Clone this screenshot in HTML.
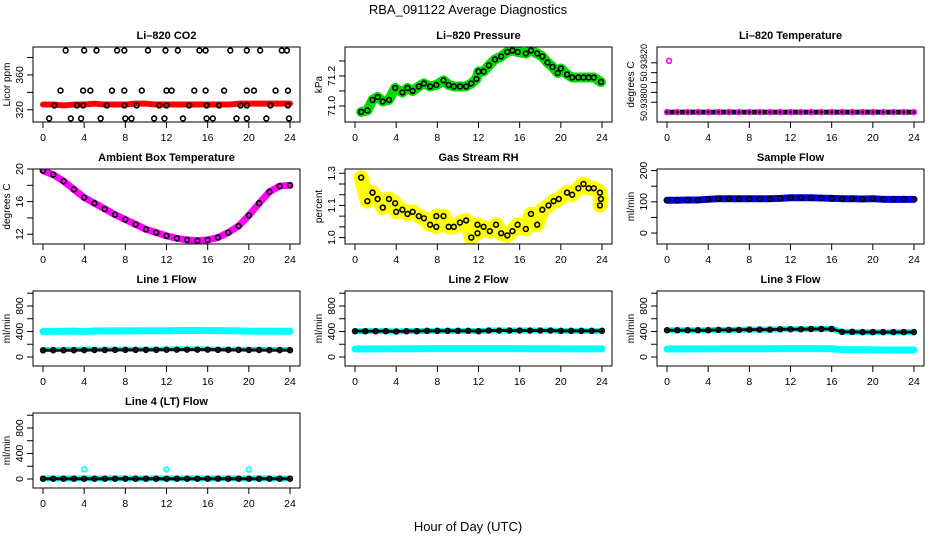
<!DOCTYPE html>
<html><head><meta charset="utf-8"><style>
html,body{margin:0;padding:0;background:#fff;}
svg{display:block;font-family:"Liberation Sans",sans-serif;}
</style></head><body>
<svg id="chart" width="936" height="540" viewBox="0 0 936 540">
<text x="468" y="14" text-anchor="middle" font-size="13">RBA_091122  Average Diagnostics</text>
<text x="468" y="531" text-anchor="middle" font-size="13">Hour of Day (UTC)</text>
</svg>
<script>
// ---- data ----
const hours25 = [0,1,2,3,4,5,6,7,8,9,10,11,12,13,14,15,16,17,18,19,20,21,22,23,24];
const xTicks = [0,4,8,12,16,20,24];

const co2Red = [326,326,325,326,326,327,326,326,326,327,327,326,326,326,326,326,326,326,326,327,327,327,327,327,327];
const co2Hours = [2.2,4.0,5.2,7.2,7.9,10.2,11.9,13.1,15.2,15.8,18.2,19.8,21.1,23.2,23.7,
  1.7,3.9,4.6,6.7,7.9,9.6,12.0,12.5,14.7,15.8,17.6,19.8,20.5,22.6,23.8,
  1.1,3.3,3.9,6.2,7.9,9.1,11.3,12.0,14.2,15.9,17.1,19.2,19.8,22.1,23.8,
  0.6,2.7,3.7,5.6,8.0,8.6,10.8,11.8,13.6,15.9,16.5,18.8,19.8,21.7,23.9];
const co2Vals = [388,388,388,388,388,388,388,388,388,388,388,388,388,388,388,
  342,342,342,342,342,342,342,342,342,342,342,342,342,342,342,
  325,325,325,325,325,325,325,325,325,325,325,325,325,325,325,
  310,310,310,310,310,310,310,310,310,310,310,310,310,310,310];

const presHours = [0.6,1.2,1.7,2.2,2.7,3.3,3.9,4.6,5.1,5.6,6.2,6.7,7.3,7.9,8.6,9.1,9.6,10.2,10.8,11.3,11.8,12.0,12.5,13.0,13.6,14.2,14.8,15.3,15.8,16.6,17.1,17.7,18.2,18.7,19.2,19.7,20.0,20.6,21.1,21.7,22.2,22.7,23.2,23.9];
const presVals = [70.96,70.97,71.04,71.06,71.03,71.04,71.12,71.09,71.12,71.10,71.13,71.15,71.13,71.14,71.17,71.14,71.13,71.13,71.13,71.15,71.18,71.23,71.23,71.27,71.31,71.33,71.36,71.37,71.36,71.35,71.37,71.35,71.33,71.29,71.26,71.22,71.25,71.21,71.19,71.19,71.19,71.19,71.19,71.16];

const tempVals = [50.93795,50.93795,50.93795,50.93795,50.93795,50.93795,50.93795,50.93795,50.93795,50.93795,50.93795,50.93795,50.93795,50.93795,50.93795,50.93795,50.93795,50.93795,50.93795,50.93795,50.93795,50.93795,50.93795,50.93795,50.93795];
const tempOutlierHour = [0.2];
const tempOutlierVal = [50.93821];

const ambVals = [19.8,19.3,18.5,17.5,16.5,15.8,15.1,14.4,13.8,13.2,12.6,12.2,11.8,11.5,11.3,11.2,11.3,11.6,12.2,13.0,14.3,15.8,17.2,17.9,18.0];

const rhHours = [0.6,1.2,1.7,2.2,2.7,3.3,3.9,4.0,4.6,5.1,5.6,6.2,6.7,7.3,7.9,7.9,8.6,9.1,9.6,10.2,10.8,11.3,11.9,11.9,12.5,13.1,13.7,14.2,14.8,15.3,15.8,16.6,17.1,17.7,18.2,18.8,19.3,19.8,20.6,21.1,21.7,22.2,22.7,23.2,23.8,23.9,23.8];
const rhVals = [1.28,1.17,1.21,1.18,1.14,1.18,1.16,1.12,1.13,1.11,1.12,1.10,1.09,1.06,1.10,1.05,1.10,1.05,1.05,1.07,1.08,1.00,1.06,1.02,1.05,1.03,1.06,1.02,1.01,1.03,1.06,1.04,1.11,1.06,1.13,1.15,1.17,1.18,1.21,1.20,1.23,1.25,1.23,1.23,1.21,1.18,1.15];

const sampleVals = [105,105,106,106,108,110,110,110,110,110,110,111,113,113,113,112,111,110,110,109,110,108,108,108,108];

const line1Cyan = [400,402,404,405,400,408,410,410,410,410,411,412,410,415,416,415,414,413,412,410,405,404,404,403,402];
const line1CyanLow = [120,120,120,120,125,122,122,122,122,122,122,122,125,128,128,128,125,122,122,122,120,120,120,120,120];
const line1Black = [105,106,106,107,108,110,110,112,112,112,112,113,114,115,115,115,115,113,112,112,110,110,108,108,107];
const line2Black = [405,405,405,405,400,405,405,410,410,410,410,410,405,415,415,415,415,415,415,415,410,410,410,410,410];
const line2Cyan = [125,125,128,128,130,130,130,132,132,132,132,132,132,132,132,132,132,130,130,130,130,128,128,128,128];
const line3Black = [420,420,420,420,420,425,425,425,430,430,430,435,435,435,440,440,440,395,395,390,390,390,390,390,390];
const line3Cyan = [125,125,128,128,128,130,130,130,130,130,130,132,132,132,132,132,130,118,115,115,112,112,110,110,110];
const line4Black = [5,5,5,5,5,5,5,5,5,5,5,5,5,5,5,5,5,5,5,5,5,5,5,5,5];
const line4Cyan = [8,8,8,8,8,8,8,8,8,8,8,8,8,8,8,8,8,8,8,8,8,8,8,8,8];
const line4OutHours = [4,12,20];
const line4OutVals = [150,150,150];

// ---- layout ----
const NS = "http://www.w3.org/2000/svg";
const svg = document.getElementById('chart');
const colLeft = [33, 345, 657], rowTop = [47, 169, 291, 413], W = 267, H = 75;
function mk(tag, attrs, parent) {
  const e = document.createElementNS(NS, tag);
  for (const k in attrs) e.setAttribute(k, attrs[k]);
  parent.appendChild(e); return e;
}
function panel(name, col, row, title, ylab, ylim, yticks, ylabels, draw, labelSize) {
  const L = colLeft[col], T = rowTop[row];
  const g = mk('g', {}, svg);
  
  
  const xs = h => L + 10 + h / 24 * (W - 20);
  const ys = v => T + H - (v - ylim[0]) / (ylim[1] - ylim[0]) * H;
  const clip = mk('clipPath', {id: 'c-' + name}, g);
  mk('rect', {x: L, y: T, width: W, height: H}, clip);
  const plot = mk('g', {'clip-path': 'url(#c-' + name + ')'}, g);
  
  
  draw(plot, xs, ys);
  const box = mk('rect', {x: L, y: T, width: W, height: H, fill: 'none', stroke: '#000', 'stroke-width': 1}, g);
  
  
  const t = mk('text', {x: L + W / 2, y: T - 8, 'text-anchor': 'middle', 'font-size': 11, 'font-weight': 'bold'}, g);
  t.textContent = title;
  
  
  const yl = mk('text', {transform: `translate(${L - 23},${T + H / 2}) rotate(-90)`, 'text-anchor': 'middle', 'font-size': 10}, g);
  yl.textContent = ylab;
  
  
  xTicks.forEach(h => {
    mk('line', {x1: xs(h), x2: xs(h), y1: T + H, y2: T + H + 6, stroke: '#000'}, g);
    const tl = mk('text', {x: xs(h), y: T + H + 19, 'text-anchor': 'middle', 'font-size': 10.5}, g);
    tl.textContent = h;
    
    
  });
  yticks.forEach(v => {
    mk('line', {x1: L - 6, x2: L, y1: ys(v), y2: ys(v), stroke: '#000'}, g);
  });
  ylabels.forEach(v => {
    const tl = mk('text', {transform: `translate(${L - 10},${ys(v)}) rotate(-90)`, 'text-anchor': 'middle', 'font-size': labelSize || 10.5}, g);
    const span = ylim[1] - ylim[0];
    tl.textContent = span < 0.01 ? v.toFixed(5) : (span < 1 ? v.toFixed(1) : (span < 2 ? v.toFixed(2) : v));
    
    
  });
}
function band(p, hs, vs, xs, ys, color, w, nm) {
  const pl = mk('polyline', {points: hs.map((h, i) => xs(h) + ',' + ys(vs[i])).join(' '), fill: 'none', stroke: color, 'stroke-width': w, 'stroke-linejoin': 'round', 'stroke-linecap': 'round'}, p);
  
  
}
function pts(p, hs, vs, xs, ys, color, nm) {
  hs.forEach((h, i) => {
    const c = mk('circle', {cx: xs(h), cy: ys(vs[i]), r: 2.4, fill: 'none', stroke: color, 'stroke-width': 1.6}, p);
    
    
  });
}

panel('co2', 0, 0, 'Li\u2013820 CO2', 'Licor ppm', [306, 392], [320, 340, 360, 380], [320, 360], (p, xs, ys) => {
  band(p, hours25, co2Red, xs, ys, '#ff0000', 6, 'co2-red-series');
  pts(p, co2Hours, co2Vals, xs, ys, '#000', 'co2-point');
});
panel('pressure', 1, 0, 'Li\u2013820 Pressure', 'kPa', [70.893, 71.393], [71.0, 71.1, 71.2, 71.3], [71.0, 71.2], (p, xs, ys) => {
  band(p, presHours, presVals, xs, ys, '#00dd00', 10, 'pressure-green-series');
  pts(p, presHours, presVals, xs, ys, '#000', 'pressure-point');
});
panel('li820-temp', 2, 0, 'Li\u2013820 Temperature', 'degrees C', [50.93790, 50.93828], [50.938, 50.93805, 50.9381, 50.93815, 50.9382], [50.938, 50.9382], (p, xs, ys) => {
  band(p, hours25, tempVals, xs, ys, '#111', 5, 'temp-black-series');
  pts(p, hours25, tempVals, xs, ys, '#ff00ff', 'temp-point');
  pts(p, tempOutlierHour, tempOutlierVal, xs, ys, '#ff00ff', 'temp-outlier');
}, 9);
panel('ambient', 0, 1, 'Ambient Box Temperature', 'degrees C', [10.8, 20.0], [12, 14, 16, 18, 20], [12, 16, 20], (p, xs, ys) => {
  band(p, hours25, ambVals, xs, ys, '#ff00ff', 7, 'ambient-magenta-series');
  pts(p, hours25, ambVals, xs, ys, '#000', 'ambient-point');
});
panel('rh', 1, 1, 'Gas Stream RH', 'percent', [0.97, 1.32], [1.0, 1.05, 1.1, 1.15, 1.2, 1.25, 1.3], [1.0, 1.15, 1.3], (p, xs, ys) => {
  band(p, rhHours, rhVals, xs, ys, '#ffff00', 15, 'rh-yellow-series');
  pts(p, rhHours, rhVals, xs, ys, '#000', 'rh-point');
});
panel('sample-flow', 2, 1, 'Sample Flow', 'ml/min', [-35, 205], [0, 50, 100, 150, 200], [0, 100, 200], (p, xs, ys) => {
  band(p, hours25, sampleVals, xs, ys, '#0000ee', 7, 'sample-blue-series');
  pts(p, hours25, sampleVals, xs, ys, '#000', 'sample-point');
});
const flowLim = [-141, 1035], flowTicks = [0, 200, 400, 600, 800, 1000], flowLabels = [0, 400, 800];
panel('line1', 0, 2, 'Line 1 Flow', 'ml/min', flowLim, flowTicks, flowLabels, (p, xs, ys) => {
  band(p, hours25, line1Cyan, xs, ys, '#00ffff', 7, 'line1-cyan-series');
  band(p, hours25, line1CyanLow, xs, ys, '#00ffff', 5, 'line1-cyan-low-series');
  band(p, hours25, line1Black, xs, ys, '#111', 3, 'line1-black-series');
  pts(p, hours25, line1Black, xs, ys, '#000', 'line1-point');
});
panel('line2', 1, 2, 'Line 2 Flow', 'ml/min', flowLim, flowTicks, flowLabels, (p, xs, ys) => {
  band(p, hours25, line2Cyan, xs, ys, '#00ffff', 7, 'line2-cyan-series');
  band(p, hours25, line2Black, xs, ys, '#00ffff', 6, 'line2-cyan-high-series');
  band(p, hours25, line2Black, xs, ys, '#111', 3, 'line2-black-series');
  pts(p, hours25, line2Black, xs, ys, '#000', 'line2-point');
});
panel('line3', 2, 2, 'Line 3 Flow', 'ml/min', flowLim, flowTicks, flowLabels, (p, xs, ys) => {
  band(p, hours25, line3Cyan, xs, ys, '#00ffff', 7, 'line3-cyan-series');
  band(p, hours25, line3Black, xs, ys, '#00ffff', 6, 'line3-cyan-high-series');
  band(p, hours25, line3Black, xs, ys, '#111', 3, 'line3-black-series');
  pts(p, hours25, line3Black, xs, ys, '#000', 'line3-point');
});
panel('line4', 0, 3, 'Line 4 (LT) Flow', 'ml/min', flowLim, flowTicks, flowLabels, (p, xs, ys) => {
  band(p, hours25, line4Cyan, xs, ys, '#00ffff', 6, 'line4-cyan-series');
  band(p, hours25, line4Black, xs, ys, '#111', 3, 'line4-black-series');
  pts(p, hours25, line4Black, xs, ys, '#000', 'line4-point');
  pts(p, line4OutHours, line4OutVals, xs, ys, '#00ffff', 'line4-outlier');
});
</script>
</body></html>
